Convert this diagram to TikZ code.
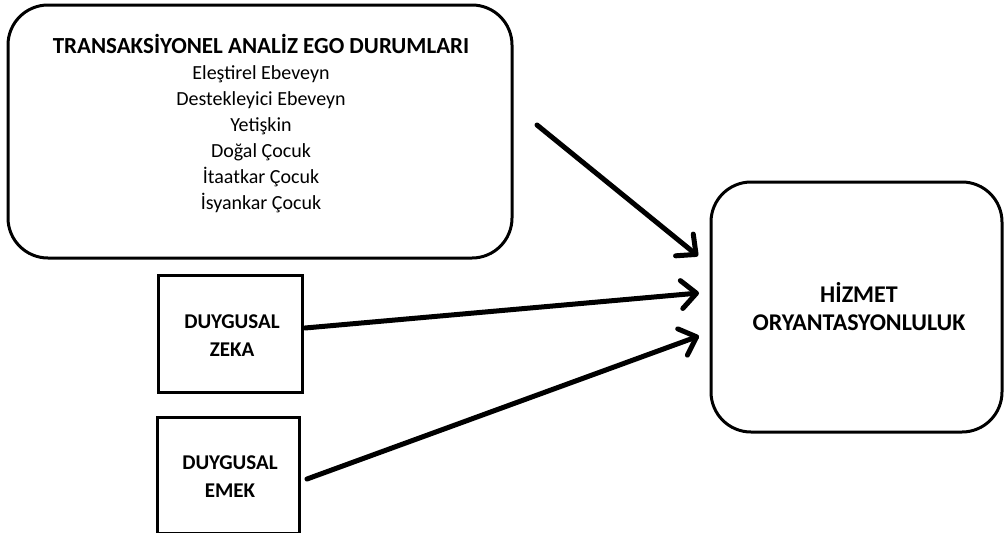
\documentclass[tikz,border=0pt]{standalone}
\usepackage{fontspec}
\setmainfont{Carlito}
\usetikzlibrary{arrows.meta}
\begin{document}
\begin{tikzpicture}[x=1pt,y=-1pt,
  box/.style={draw, line width=3pt, inner sep=0pt},
  roundbox/.style={box, rounded corners=40pt},
  line/.style={inner sep=0pt, anchor=base, font=\fontsize{20}{26}\selectfont},
  head/.style={inner sep=0pt, anchor=base, font=\fontsize{21}{26}\selectfont\bfseries},
  bighead/.style={head, font=\fontsize{23}{28}\selectfont\bfseries},
  outhead/.style={head, font=\fontsize{24}{28}\selectfont\bfseries},
  arr/.style={line width=5pt, line cap=round,
    -{Straight Barb[length=15pt, width=28pt, line cap=round, line join=round]}}]
\useasboundingbox (0,0) rectangle (1005,533);

% frames
\node[roundbox, minimum width=504pt, minimum height=253pt] (ta) at (260,131.5) {};
\node[box, minimum width=144pt, minimum height=117pt] (dz) at (230,333.5) {};
\node[box, minimum width=142pt, minimum height=116pt] (de) at (228,475) {};
\node[roundbox, minimum width=291pt, minimum height=250pt] (ho) at (856.5,307) {};

% ego states
\node[bighead] (t0) at (261,53) {TRANSAKSİYONEL ANALİZ EGO DURUMLARI};
\node[line] (t1) at (261,79) {Eleştirel Ebeveyn};
\node[line] (t2) at (261,105) {Destekleyici Ebeveyn};
\node[line] (t3) at (261,131) {Yetişkin};
\node[line] (t4) at (261,157) {Doğal Çocuk};
\node[line] (t5) at (261,183) {İtaatkar Çocuk};
\node[line] (t6) at (261,209) {İsyankar Çocuk};

% small boxes
\node[head] (z1) at (232,328) {DUYGUSAL};
\node[head] (z2) at (232,356) {ZEKA};
\node[head] (e1) at (230,469) {DUYGUSAL};
\node[head] (e2) at (230,497) {EMEK};

% outcome
\node[outhead] (h1) at (859,302) {HİZMET};
\node[outhead] (h2) at (859,330) {ORYANTASYONLULUK};

% connector ends
\coordinate (s1) at (537,125);
\coordinate (s2) at (305,328);
\coordinate (s3) at (307,479);
\coordinate (p1) at (698,256);
\coordinate (p2) at (699,293);
\coordinate (p3) at (699,336);

\draw[arr] (s1) -- (p1);
\draw[arr] (s2) -- (p2);
\draw[arr] (s3) -- (p3);
\end{tikzpicture}
\end{document}
